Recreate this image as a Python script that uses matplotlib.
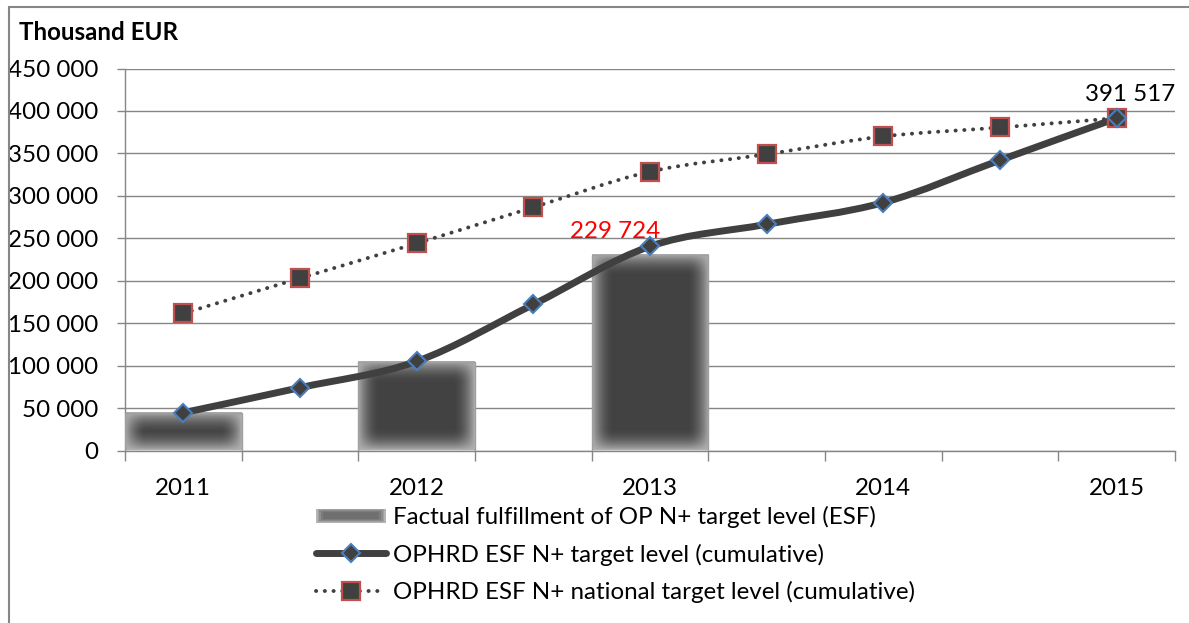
import numpy as np
import matplotlib
matplotlib.use("Agg")
import matplotlib.pyplot as plt
from matplotlib.path import Path
from matplotlib.patches import PathPatch, Rectangle
from matplotlib.lines import Line2D
from matplotlib.legend_handler import HandlerBase

# ---------------- data ----------------
years = ["2011", "2012", "2013", "2014", "2015"]
bar_pos = [0, 1, 2]
bar_values = [44500, 104500, 229724]
point_pos = [0, 0.5, 1, 1.5, 2, 2.5, 3, 3.5, 4]
target_values = [44500, 74000, 105000, 172000, 240500, 266500, 292000, 342000, 391517]
national_values = [161500, 203000, 244000, 286500, 328500, 349000, 370000, 380500, 391517]
y_ticks = [0, 50000, 100000, 150000, 200000, 250000, 300000, 350000, 400000, 450000]
series_labels = [
    "Factual fulfillment of OP N+ target level (ESF)",
    "OPHRD ESF N+ target level (cumulative)",
    "OPHRD ESF N+ national target level (cumulative)",
]
y_title = "Thousand EUR"

# ---------------- style ----------------
FONT = "Lato"
FS = 17.4
GRAY = "#868686"
DARK = "#404040"
plt.rcParams["font.family"] = [FONT, "DejaVu Sans"]

W, H = 1189, 623
fig = plt.figure(figsize=(W / 100, H / 100), dpi=100)
ax = fig.add_axes([125 / W, 1 - 450.5 / H, 1050 / W, 382 / H])


def fmt(v):
    return f"{v:,.0f}".replace(",", " ")


def smooth_path(x, y):
    pts = np.column_stack([x, y]).astype(float)
    n = len(pts)
    verts = [pts[0]]
    codes = [Path.MOVETO]
    for i in range(n - 1):
        p0 = pts[i - 1] if i > 0 else pts[i]
        p1 = pts[i]
        p2 = pts[i + 1]
        p3 = pts[i + 2] if i + 2 < n else pts[i + 1]
        verts += [p1 + (p2 - p0) / 6.0, p2 - (p3 - p1) / 6.0, p2]
        codes += [Path.CURVE4] * 3
    return Path(verts, codes)


ax.set_xlim(-0.25, 4.25)
ax.set_ylim(0, 450000)

# bars (outline via ax.bar, soft-edged fill via image inside each bar)
bars = ax.bar(bar_pos, bar_values, width=0.5, color="none", edgecolor="#a0a0a0",
              linewidth=1.0, zorder=3)
core = np.array([0.26, 0.26, 0.26])
edge = np.array([0.70, 0.70, 0.70])
px_per_unit_x = 1050 / 4.5
px_per_unit_y = 382 / 450000
blur = 22.0
for b in bars:
    x0, wdt, hgt = b.get_x(), b.get_width(), b.get_height()
    nx = max(int(wdt * px_per_unit_x), 2)
    ny = max(int(hgt * px_per_unit_y), 2)
    xx = np.arange(nx) + 0.5
    yy = np.arange(ny) + 0.5
    dx = np.minimum(xx, nx - xx)
    dy = np.minimum(yy, ny - yy)
    fx = np.clip(dx / blur, 0, 1)
    fy = np.clip(dy / blur, 0, 1)
    fx = np.sin(fx * np.pi / 2) ** 0.8
    fy = np.sin(fy * np.pi / 2) ** 0.8
    f = np.outer(fy, fx)
    img = edge[None, None, :] + (core - edge)[None, None, :] * f[:, :, None]
    ax.imshow(img, extent=[x0, x0 + wdt, 0, hgt], aspect="auto",
              interpolation="bilinear", zorder=2, origin="lower")

ax.set_xlim(-0.25, 4.25)
ax.set_ylim(0, 450000)

# lines
DOT = (0, (0.05, 2.2))
p_nat = PathPatch(smooth_path(point_pos, national_values), fill=False, edgecolor=DARK,
                  linewidth=2.8, linestyle=DOT, capstyle="round", zorder=4)
ax.add_patch(p_nat)
p_tgt = PathPatch(smooth_path(point_pos, target_values), fill=False, edgecolor=DARK,
                  linewidth=5, capstyle="round", joinstyle="round", zorder=5)
ax.add_patch(p_tgt)

ax.plot(point_pos, national_values, linestyle="none", marker="s", markersize=13.5,
        markerfacecolor=DARK, markeredgecolor="#c0504d", markeredgewidth=1.6, zorder=6)
ax.plot(point_pos, target_values, linestyle="none", marker="D", markersize=9,
        markerfacecolor=DARK, markeredgecolor="#4a7ebb", markeredgewidth=1.5, zorder=7)

# data labels
ax.annotate(fmt(bar_values[-1]), xy=(bar_pos[-1], bar_values[-1]), xytext=(-25, 17),
            textcoords="offset points", ha="center", va="center", color="red",
            fontsize=FS, zorder=8)
ax.annotate(fmt(target_values[-1]), xy=(point_pos[-1], target_values[-1]), xytext=(10, 17),
            textcoords="offset points", ha="center", va="center", color="black",
            fontsize=FS, zorder=8)

# axes styling
for s in ["top", "right"]:
    ax.spines[s].set_visible(False)
for s in ["left", "bottom"]:
    ax.spines[s].set_color(GRAY)
    ax.spines[s].set_linewidth(1.0)
ax.set_yticks(y_ticks)
ax.set_yticklabels([fmt(v) for v in y_ticks], fontsize=FS)
ax.tick_params(axis="y", length=6, width=1, color=GRAY, pad=13)
ax.set_xticks(np.arange(-0.25, 4.26, 0.5))
ax.set_xticklabels([])
ax.set_xticks(range(len(years)), minor=True)
ax.set_xticklabels(years, minor=True, fontsize=FS)
ax.tick_params(axis="x", which="major", length=7, width=1, color=GRAY)
ax.tick_params(axis="x", which="minor", length=0, pad=20)
ax.set_axisbelow(True)
ax.yaxis.grid(True, color=GRAY, linewidth=1.0)
ax.set_xlim(-0.25, 4.25)
ax.set_ylim(0, 450000)

fig.text(19 / W, 1 - 33 / H, y_title, fontsize=FS, fontweight="bold", ha="left", va="center")

# outer frame (extends beyond right and bottom edges)
fig.add_artist(Rectangle((9 / W, -0.2), 1.5, 1.2 - 7 / H, transform=fig.transFigure,
                         fill=False, edgecolor=GRAY, linewidth=1.5))


# legend
class SoftBoxHandler(HandlerBase):
    def create_artists(self, legend, orig_handle, xdescent, ydescent, width, height,
                       fontsize, trans):
        arts = []
        cy = height / 2 - ydescent
        hh = 14 * 0.72
        for shrink, col in [(0, "#b4b4b4"), (1.2, "#a0a0a0"), (2.4, "#8c8c8c"),
                            (3.6, "#7c7c7c"), (4.8, "#707070")]:
            r = Rectangle((-xdescent + shrink, cy - hh / 2 + shrink * 0.5),
                          width - 2 * shrink, hh - shrink, facecolor=col,
                          edgecolor="none", transform=trans)
            arts.append(r)
        return arts


bar_proxy = Rectangle((0, 0), 1, 1)
h_tgt = Line2D([], [], color=DARK, linewidth=5, marker="D", markersize=9,
               markerfacecolor=DARK, markeredgecolor="#4a7ebb", markeredgewidth=1.5,
               solid_capstyle="round")
h_nat = Line2D([], [], color=DARK, linewidth=2.8, linestyle=DOT,
               dash_capstyle="round", marker="s", markersize=13.5, markerfacecolor=DARK,
               markeredgecolor="#c0504d", markeredgewidth=1.6)
fig.legend([bar_proxy, h_tgt, h_nat], series_labels, loc="upper left",
           bbox_to_anchor=(316 / W, 1 - 506 / H), bbox_transform=fig.transFigure,
           frameon=False, fontsize=FS, handlelength=2.9, handletextpad=0.3,
           labelspacing=0.64, borderpad=0, borderaxespad=0, numpoints=1,
           handler_map={Rectangle: SoftBoxHandler()})

fig.savefig("out.png", dpi=100)
